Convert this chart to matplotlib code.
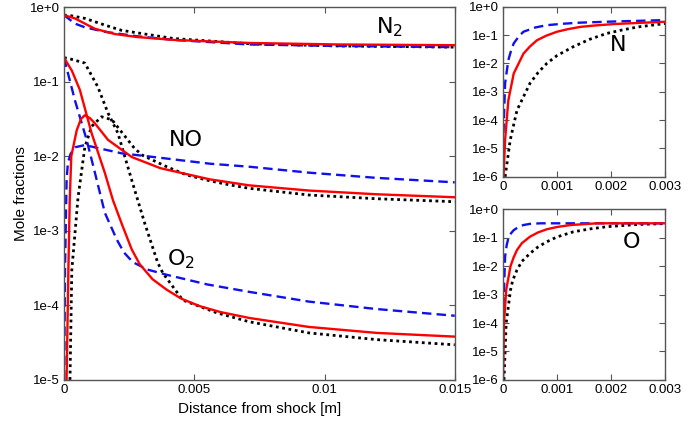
import numpy as np
import matplotlib
matplotlib.use("Agg")
import matplotlib.pyplot as plt
from matplotlib.ticker import FixedLocator, FuncFormatter, NullLocator

# values, y as log10(mole fraction)
# --- main panel: N2, O2, NO for the three models ---
x_n2_red = [0, 0.00042, 0.0008, 0.00119, 0.00195, 0.0028, 0.00425, 0.0071, 0.0105, 0.015]
n2_red = [-0.107, -0.15, -0.22, -0.29, -0.36, -0.40, -0.44, -0.48, -0.50, -0.51]
x_n2_blue = [0, 0.00042, 0.0008, 0.00157, 0.0028, 0.00425, 0.0071, 0.0105, 0.015]
n2_blue = [-0.107, -0.22, -0.27, -0.33, -0.39, -0.44, -0.50, -0.52, -0.536]
x_n2_blk = [0, 0.0002, 0.0008, 0.00157, 0.0022, 0.0031, 0.0042, 0.0071, 0.0105, 0.015]
n2_blk = [-0.107, -0.11, -0.15, -0.24, -0.31, -0.36, -0.42, -0.49, -0.52, -0.536]

x_o2_red = [0, 0.0003, 0.00061, 0.00106, 0.00157, 0.00188, 0.00221, 0.0026, 0.00291, 0.0034,
            0.00394, 0.0045, 0.0052, 0.006, 0.00712, 0.0094, 0.012, 0.015]
o2_red = [-0.678, -0.85, -1.11, -1.69, -2.225, -2.59, -2.9, -3.25, -3.45, -3.65,
          -3.79, -3.91, -4.01, -4.09, -4.17, -4.29, -4.37, -4.42]
x_o2_blue = [0, 0.00042, 0.00087, 0.00119, 0.00157, 0.00203, 0.0023, 0.00264, 0.0032, 0.00394,
             0.0055, 0.00712, 0.0094, 0.012, 0.015]
o2_blue = [-0.678, -1.25, -1.78, -2.225, -2.76, -3.12, -3.29, -3.42, -3.52, -3.59,
           -3.72, -3.82, -3.95, -4.05, -4.14]
x_o2_blk = [0, 0.0002, 0.0008, 0.0013, 0.00169, 0.00207, 0.0026, 0.0031, 0.0036, 0.0038,
            0.00456, 0.00586, 0.0071, 0.0094, 0.012, 0.015]
o2_blk = [-0.678, -0.69, -0.75, -1.07, -1.42, -1.69, -2.32, -2.9, -3.43, -3.57,
          -3.93, -4.1, -4.22, -4.37, -4.46, -4.53]

x_no_red = [0.0001, 0.00017, 0.00022, 0.00028, 0.00049, 0.00065, 0.0008, 0.001, 0.00119,
            0.00169, 0.0026, 0.0037, 0.0056, 0.0071, 0.0094, 0.012, 0.015]
no_red = [-5, -3.5, -2.6, -2.0, -1.65, -1.50, -1.45, -1.49, -1.56,
          -1.78, -2.01, -2.16, -2.31, -2.39, -2.46, -2.51, -2.55]
x_no_blue = [0.00001, 0.00004, 0.0001, 0.00015, 0.00025, 0.00042, 0.0008, 0.0022, 0.00368,
             0.0056, 0.0071, 0.0094, 0.012, 0.015]
no_blue = [-5, -3.5, -2.32, -2.09, -1.97, -1.88, -1.85, -1.96, -2.02,
           -2.10, -2.14, -2.22, -2.29, -2.35]
x_no_blk = [0.00023, 0.0003, 0.00054, 0.0008, 0.00106, 0.00144, 0.00184, 0.0022, 0.00272,
            0.00303, 0.00394, 0.0047, 0.0056, 0.0063, 0.0071, 0.0094, 0.012, 0.015]
no_blk = [-5, -3.53, -2.55, -1.88, -1.6, -1.47, -1.51, -1.67, -1.90,
          -1.99, -2.14, -2.25, -2.33, -2.38, -2.43, -2.52, -2.57, -2.61]

# --- right panels: atomic N and O ---
x_n_red = [0.00001, 0.00004, 0.0001, 0.0002, 0.00038, 0.0005, 0.00063, 0.0008, 0.001,
           0.0012, 0.00143, 0.0017, 0.00205, 0.0025, 0.003]
n_red = [-6, -4.7, -3.3, -2.35, -1.65, -1.40, -1.18, -1.02, -0.88,
         -0.79, -0.71, -0.66, -0.61, -0.57, -0.53]
x_n_blue = [0, 0.00001, 0.00004, 0.0001, 0.00015, 0.0002, 0.0003, 0.00038, 0.0006, 0.00081,
            0.0011, 0.00143, 0.00205, 0.003]
n_blue = [-6, -4.47, -2.7, -1.88, -1.55, -1.29, -1.03, -0.88, -0.73, -0.65,
          -0.60, -0.56, -0.52, -0.47]
x_n_blk = [0.00004, 0.000135, 0.00026, 0.0005, 0.00065, 0.00081, 0.001, 0.0013, 0.0016,
           0.00192, 0.0022, 0.0025, 0.003]
n_blk = [-6, -4.7, -3.65, -2.7, -2.32, -2.0, -1.72, -1.41, -1.15,
         -0.94, -0.82, -0.71, -0.59]

x_o_red = [0, 0.00002, 0.00006, 0.00014, 0.0002, 0.00026, 0.00035, 0.0005, 0.00065, 0.00081,
           0.001, 0.00125, 0.0015, 0.00174, 0.003]
o_red = [-6, -4.0, -2.84, -2.0, -1.68, -1.43, -1.19, -0.96, -0.81, -0.70,
         -0.62, -0.55, -0.52, -0.49, -0.49]
x_o_blue = [0, 0.00001, 0.00004, 0.00007, 0.0001, 0.00015, 0.0002, 0.00028, 0.00038, 0.0005,
            0.00069, 0.0011, 0.003]
o_blue = [-6, -3.42, -1.66, -1.25, -1.02, -0.84, -0.73, -0.63, -0.55, -0.51,
          -0.49, -0.49, -0.49]
x_o_blk = [0.00002, 0.00006, 0.00014, 0.00018, 0.00026, 0.00035, 0.0005, 0.00065, 0.00081,
           0.001, 0.0013, 0.0016, 0.00192, 0.0022, 0.0025, 0.003]
o_blk = [-6, -4.0, -2.84, -2.5, -2.13, -1.83, -1.55, -1.32, -1.14,
         -0.97, -0.79, -0.69, -0.61, -0.57, -0.53, -0.5]

main_xticks = [0, 0.005, 0.01, 0.015]
main_xlabels = ["0", "0.005", "0.01", "0.015"]
small_xticks = [0, 0.001, 0.002, 0.003]
small_xlabels = ["0", "0.001", "0.002", "0.003"]

plt.rcParams['font.family'] = ['Liberation Sans', 'DejaVu Sans']

red = dict(color='#ff0000', lw=1.7, ls='-')
blue = dict(color='#1010ee', lw=1.7, ls=(0, (4, 2.2)))
blk = dict(color='black', lw=2.0, ls=(0, (1, 1.3)))


def decade_fmt(v, pos):
    e = int(round(np.log10(v)))
    return "1e+0" if e == 0 else "1e%d" % e


def style_axes(ax, ymin):
    ax.set_yscale('log')
    ax.set_ylim(10.0 ** ymin, 1.0)
    ax.yaxis.set_major_locator(FixedLocator([10.0 ** k for k in range(ymin, 1)]))
    ax.yaxis.set_minor_locator(NullLocator())
    ax.yaxis.set_major_formatter(FuncFormatter(decade_fmt))
    ax.tick_params(direction='in', top=True, right=True, length=4, width=0.8,
                   color='#555555', labelsize=9.5, pad=3)
    for s in ax.spines.values():
        s.set_color('#555555')
        s.set_linewidth(1.0)


def curve(ax, x, lg, st):
    ax.plot(x, 10.0 ** np.array(lg), clip_on=True, **st)


fig = plt.figure(figsize=(6.88, 4.23), dpi=100)
ax = fig.add_axes([0.093, 0.102, 0.568, 0.881])
ax2 = fig.add_axes([0.731, 0.582, 0.236, 0.402])
ax3 = fig.add_axes([0.731, 0.102, 0.236, 0.403])

for x, lg, st in [(x_n2_blk, n2_blk, blk), (x_o2_blk, o2_blk, blk), (x_no_blk, no_blk, blk),
                  (x_n2_blue, n2_blue, blue), (x_o2_blue, o2_blue, blue), (x_no_blue, no_blue, blue),
                  (x_n2_red, n2_red, red), (x_o2_red, o2_red, red), (x_no_red, no_red, red)]:
    curve(ax, x, lg, st)
style_axes(ax, -5)
ax.set_xlim(0, 0.015)
ax.set_xticks(main_xticks, main_xlabels)
ax.set_xlabel("Distance from shock [m]", fontsize=11, labelpad=4)
ax.set_ylabel("Mole fractions", fontsize=11, labelpad=1)
ax.text(0.0125, 10 ** -0.27, "N$_2$", fontsize=16, ha='center', va='center', family='DejaVu Sans')
ax.text(0.00467, 10 ** -1.78, "NO", fontsize=16, ha='center', va='center', family='DejaVu Sans')
ax.text(0.0045, 10 ** -3.38, "O$_2$", fontsize=16, ha='center', va='center', family='DejaVu Sans')

for x, lg, st in [(x_n_blk, n_blk, blk), (x_n_blue, n_blue, blue), (x_n_red, n_red, red)]:
    curve(ax2, x, lg, st)
style_axes(ax2, -6)
ax2.set_xlim(0, 0.003)
ax2.set_xticks(small_xticks, small_xlabels)
ax2.text(0.00213, 10 ** -1.35, "N", fontsize=16, ha='center', va='center', family='DejaVu Sans')

for x, lg, st in [(x_o_blk, o_blk, blk), (x_o_blue, o_blue, blue), (x_o_red, o_red, red)]:
    curve(ax3, x, lg, st)
style_axes(ax3, -6)
ax3.set_xlim(0, 0.003)
ax3.set_xticks(small_xticks, small_xlabels)
ax3.text(0.00237, 10 ** -1.16, "O", fontsize=16, ha='center', va='center', family='DejaVu Sans')

fig.savefig("out.png", dpi=100)
